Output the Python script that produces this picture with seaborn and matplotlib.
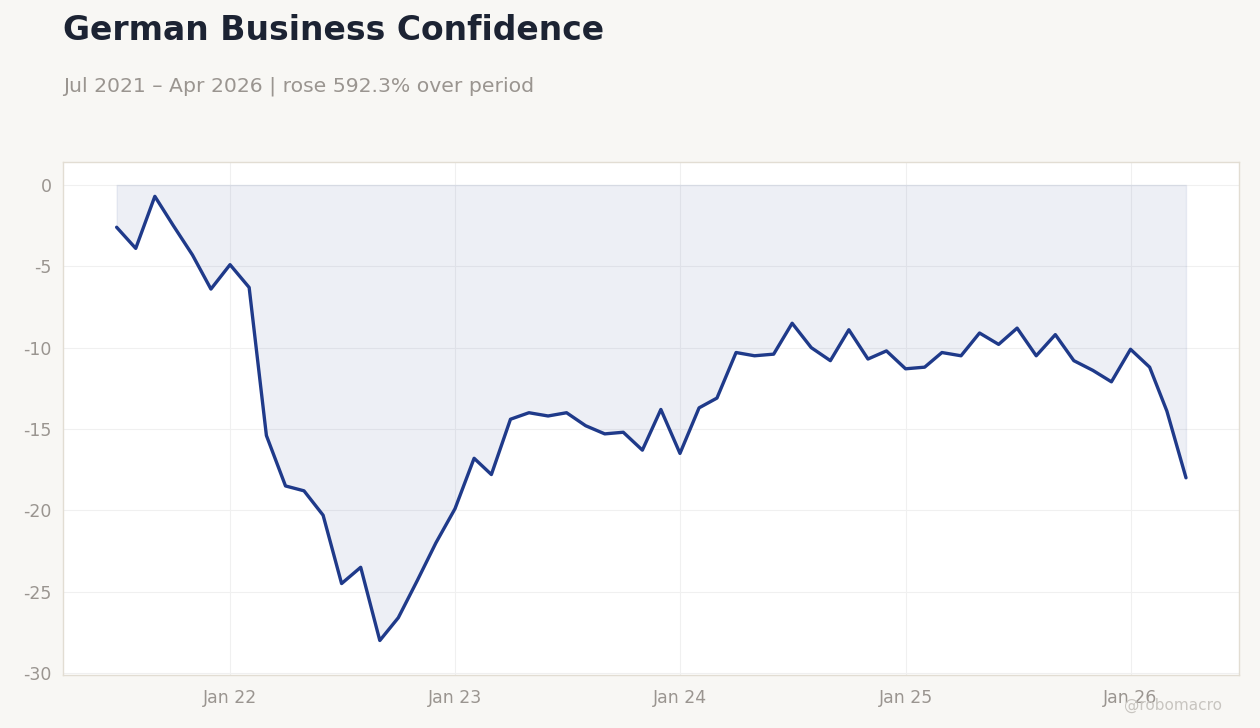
"""German business confidence, monthly, Jul 2021 - Apr 2026."""
import matplotlib
matplotlib.use("Agg")
import matplotlib.dates as mdates
import matplotlib.pyplot as plt
import pandas as pd
import seaborn as sns

# ── data ──────────────────────────────────────────────────────────────────
START = "2021-07-01"
END = "2026-04-01"
CONFIDENCE = [
    -2.6, -3.9, -0.7, -2.5, -4.3, -6.4,                                   # 2021 H2
    -4.9, -6.3, -15.4, -18.5, -18.8, -20.3, -24.5, -23.5, -28.0, -26.6, -24.3, -22.0,  # 2022
    -19.9, -16.8, -17.8, -14.4, -14.0, -14.2, -14.0, -14.8, -15.3, -15.2, -16.3, -13.8,  # 2023
    -16.5, -13.7, -13.1, -10.3, -10.5, -10.4, -8.5, -10.0, -10.8, -8.9, -10.7, -10.2,   # 2024
    -11.3, -11.2, -10.3, -10.5, -9.1, -9.8, -8.8, -10.5, -9.2, -10.8, -11.4, -12.1,     # 2025
    -10.1, -11.2, -13.9, -18.0,                                           # 2026
]
Y_TICKS = [0, -5, -10, -15, -20, -25, -30]
X_TICKS = ["2022-01-01", "2023-01-01", "2024-01-01", "2025-01-01", "2026-01-01"]

TITLE = "German Business Confidence"
SUBTITLE = "Jul 2021 – Apr 2026 | rose 592.3% over period"

LINE = "#1f3a8a"
BG = "#f8f7f4"
MUTED = "#9a9590"

df = pd.DataFrame({
    "date": pd.date_range(START, END, freq="MS"),
    "value": CONFIDENCE,
})

# ── plot ──────────────────────────────────────────────────────────────────
sns.set_theme(style="whitegrid")
plt.rcParams["font.family"] = ["DejaVu Sans"]

fig = plt.figure(figsize=(12.6, 7.28), dpi=100, facecolor=BG)
ax = fig.add_axes([63 / 1260, 1 - 675 / 728, (1239 - 63) / 1260, (675 - 162) / 728])
ax.set_facecolor("white")

ax.fill_between(df["date"], df["value"], 0, color=LINE, alpha=0.08,
                edgecolor=(0.12, 0.23, 0.54, 0.10), linewidth=1.0, zorder=1)
sns.lineplot(data=df, x="date", y="value", color=LINE, linewidth=2.4, ax=ax, zorder=3)

ax.set_xlim(pd.Timestamp("2021-04-05"), pd.Timestamp("2026-06-26"))
ax.set_ylim(-30.12, 1.41)
ax.set_yticks(Y_TICKS)
ax.set_yticklabels([str(t) for t in Y_TICKS])
ax.set_xticks(pd.to_datetime(X_TICKS))
ax.xaxis.set_major_formatter(mdates.DateFormatter("%b %y"))
ax.set_xlabel("")
ax.set_ylabel("")

ax.grid(True, color="#f0f0f0", linewidth=0.8)
ax.set_axisbelow(True)
for side in ax.spines.values():
    side.set_color("#e2ddd3")
    side.set_linewidth(1.0)
ax.tick_params(axis="both", colors="#8a8580", labelcolor=MUTED, labelsize=12.5,
               length=4, width=0.8, direction="out", pad=6)
ax.tick_params(axis="y", pad=4)

fig.text(63 / 1260, 1 - 31 / 728, TITLE, fontsize=23.8, fontweight="bold",
         color="#1c2333", va="center", ha="left")
fig.text(63 / 1260, 1 - 86 / 728, SUBTITLE, fontsize=14.7, color=MUTED,
         va="center", ha="left")
fig.text(1222 / 1260, 1 - 705 / 728, "@robomacro", fontsize=11, color="#c8c5c0",
         va="center", ha="right")

fig.savefig("out.png", dpi=100, facecolor=BG)
